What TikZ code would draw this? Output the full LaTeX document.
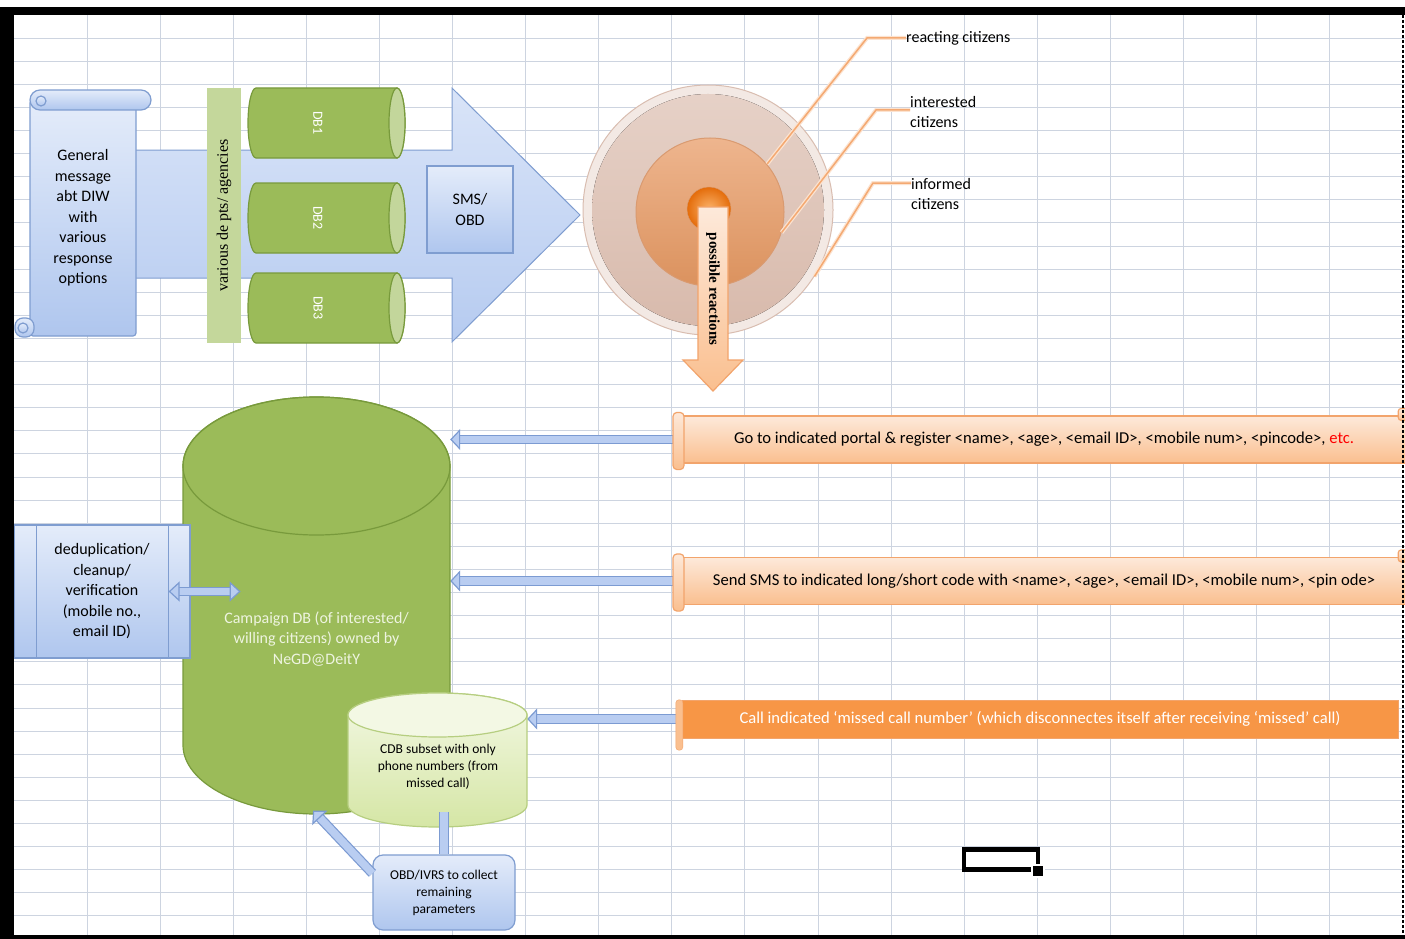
\documentclass[tikz,border=0pt]{standalone}
\usepackage{fontspec}
\setmainfont{Carlito}
\newfontfamily\timesfont{Liberation Serif}
\usepackage{tikz}
\usetikzlibrary{positioning}
\usetikzlibrary{arrows.meta}
\usetikzlibrary{backgrounds}

\definecolor{gridline}{HTML}{CDD4E0}
\definecolor{bluetop}{HTML}{E4ECFA}
\definecolor{bluebot}{HTML}{AFC6EE}
\definecolor{blueline}{HTML}{7F9DD0}
\definecolor{arrowtop}{HTML}{D9E4F8}
\definecolor{arrowbot}{HTML}{B6CBF0}
\definecolor{dbgreen}{HTML}{9BBB59}
\definecolor{dbline}{HTML}{789A3C}
\definecolor{dbcap}{HTML}{C3D69B}
\definecolor{agency}{HTML}{C4D79B}
\definecolor{campdbtext}{HTML}{EEF4E0}
\definecolor{palegreentop}{HTML}{F3F8E4}
\definecolor{palegreenbot}{HTML}{D5E6A5}
\definecolor{palegreenline}{HTML}{B6CE80}
\definecolor{peachtop}{HTML}{FDE9DA}
\definecolor{peachbot}{HTML}{FABF8F}
\definecolor{peachline}{HTML}{F2A46C}
\definecolor{xlorange}{HTML}{F79646}
\definecolor{calloutline}{HTML}{F4A972}
\definecolor{calloutglow}{HTML}{FCE3D0}
\definecolor{pipefill}{HTML}{B9CDF1}
\definecolor{pipeline}{HTML}{7C9BD2}
\definecolor{ringlight}{HTML}{F3E9E4}
\definecolor{ringline}{HTML}{D9BDB0}
\definecolor{ringtop}{HTML}{E6D1C7}
\definecolor{ringbot}{HTML}{D8BAAC}
\definecolor{midtop}{HTML}{EEB58E}
\definecolor{midbot}{HTML}{DB925E}
\definecolor{midline}{HTML}{D99A70}
\definecolor{coretop}{HTML}{FBB36A}
\definecolor{corebot}{HTML}{E46C0A}

\begin{document}
\begin{tikzpicture}
 [x=1pt, y=-1pt,
  xlgrid/.style={draw=gridline, line width=1pt},
  bluebox/.style={draw=blueline, line width=1.2pt, top color=bluetop, bottom color=bluebot},
  greendb/.style={draw=dbline, line width=1.2pt, fill=dbgreen},
  paledb/.style={draw=palegreenline, line width=1.2pt, top color=palegreentop, bottom color=palegreenbot},
  peachband/.style={draw=peachline, line width=1.2pt, top color=peachtop, bottom color=peachbot},
  txt/.style={font=\fontsize{16}{20.5}\selectfont, align=center, inner sep=0pt},
  bandtxt/.style={font=\fontsize{16.6}{20}\selectfont, align=center, inner sep=0pt},
  smalltxt/.style={font=\fontsize{13.5}{17}\selectfont, align=center, inner sep=0pt},
  dblabel/.style={font=\fontsize{14}{14}\selectfont, text=white, rotate=-90, inner sep=0pt},
  pipe/.style={draw=pipeline, double=pipefill, double distance=7.5pt, line width=1.2pt},
  pipetip/.style={-{Triangle[length=10pt,width=21pt,fill=pipefill,color=pipeline,line width=1.2pt]}},
  callout/.style={draw=calloutline, line width=1.5pt, preaction={draw=calloutglow, line width=4pt}}]
 \useasboundingbox (0,0) rectangle (1405,939);
 \begin{scope}[on background layer]
  \fill[white] (0,0) rectangle (1405,939);
  \foreach \i in {0,...,17}
    \draw[xlgrid] ({87+73.1*\i},15) -- ({87+73.1*\i},939);
  \foreach \j in {1,...,40}
    \draw[xlgrid] (14,{15+23.1*\j}) -- (1405,{15+23.1*\j});
 \end{scope}

 \draw[bluebox, line width=1pt, top color=arrowtop, bottom color=arrowbot]
   (133,150) -- (452,150) -- (452,88) -- (580,215) -- (452,342) -- (452,278) -- (133,278) -- cycle;

 \draw[bluebox, rounded corners=3] (30,100) rectangle (136,336);
 \draw[bluebox, rounded corners=10] (30,90) rectangle (151,110);
 \draw[bluebox] (41,101) circle (5);
 \draw[bluebox, rounded corners=8] (15,318) rectangle (34,337);
 \draw[bluebox] (23,328) circle (5);
 \node[txt] (genmsg) at (83,218) {General\\message\\abt DIW\\with\\various\\response\\options};

 \node[fill=agency, rotate=90, minimum width=255, minimum height=34, inner sep=0,
       font=\timesfont\fontsize{16}{16}\selectfont] (agencies) at (224,215.5) {various de pts/ agencies};

 \foreach \y/\lbl in {123/DB1, 218/DB2, 308/DB3} {
   \draw[greendb] (256,{\y-35}) -- (397,{\y-35}) arc (-90:90:8 and 35) -- (256,{\y+35}) arc (90:270:8 and 35) -- cycle;
   \draw[greendb, fill=dbcap] (397,\y) ellipse (8 and 35);
   \node[dblabel] (\lbl) at (318,\y) {\lbl};
 }

 \node[bluebox, minimum width=86, minimum height=87, txt] (smsobd) at (470,209.5) {SMS/\\OBD};

 \node[circle, inner sep=0, minimum size=250, draw=ringline, line width=1pt, fill=ringlight] (informedc) at (708,210) {};
 \fill[top color=ringtop, bottom color=ringbot] (informedc.center) circle (116);
 \node[circle, inner sep=0, minimum size=148, draw=midline, line width=1pt, top color=midtop, bottom color=midbot] (interestedc) at (710,212) {};
 \node[circle, inner sep=0, minimum size=44, draw=midline, inner color=coretop, outer color=corebot] (reactingc) at (709,209) {};

 \draw[peachband] (698,207) -- (728,207) -- (728,360) -- (743,360) -- (713,391) -- (683,360) -- (698,360) -- cycle;
 \node[font=\timesfont\bfseries\fontsize{15}{15}\selectfont, rotate=-90, inner sep=0] (reactions) at (713,289) {possible reactions};

 \node[txt, anchor=west] (reacting) at (906,38) {reacting citizens};
 \node[txt, anchor=west, align=left] (interested) at (910,112) {interested\\citizens};
 \node[txt, anchor=west, align=left] (informed) at (911,194) {informed\\citizens};
 \draw[callout] (interestedc.40) -- (867,38) -- (reacting.west);
 \draw[callout] (interestedc.-16) -- (876,110) -- ([yshift=2]interested.west);
 \draw[callout] (informedc.-32) -- (873,183) -- ([yshift=11]informed.west);

 \node[minimum width=267, minimum height=417, inner sep=0] (campdb) at (316.5,605.5) {};
 \draw[greendb] (183,466) -- (183,745) arc (180:0:133.5 and 69) -- (450,466) arc (0:-180:133.5 and 69) -- cycle;
 \draw[dbline, line width=1.2pt] (316.5,466) ellipse (133.5 and 69);
 \node[txt, text=campdbtext] (campdbtxt) at (316.5,639) {Campaign DB (of interested/\\willing citizens) owned by\\NeGD@DeitY};

 \node[bluebox, minimum width=176, minimum height=133, txt] (dedup) at (102,591.5)
   {deduplication/\\cleanup/\\verification\\(mobile no.,\\email ID)};
 \draw[blueline, line width=1.2pt] ([xshift=23]dedup.north west) -- ([xshift=23]dedup.south west)
   ([xshift=-22]dedup.north east) -- ([xshift=-22]dedup.south east);
 \draw[pipe, {Triangle[length=11pt,width=20pt,fill=pipefill,color=pipeline,line width=1.2pt]}-{Triangle[length=11pt,width=20pt,fill=pipefill,color=pipeline,line width=1.2pt]}]
   ([xshift=-22]dedup.east) -- ([xshift=50]dedup.east);

 \node[minimum width=179, minimum height=134, inner sep=0] (cdb) at (437.5,760) {};
 \draw[paledb] (348,715) -- (348,805) arc (180:0:89.5 and 22) -- (527,715) arc (0:-180:89.5 and 22) -- cycle;
 \draw[draw=palegreenline, line width=1.2pt, fill=palegreentop] (437.5,715) ellipse (89.5 and 22);
 \node[smalltxt] (cdbtxt) at (438,767) {CDB subset with only\\phone numbers (from\\missed call)};

 \node[bluebox, rounded corners=10, minimum width=142, minimum height=75, smalltxt] (obdivrs) at (444,892.5)
   {OBD/IVRS to collect\\remaining\\parameters};
 \draw[pipe, shorten <=-15pt] (obdivrs.north |- cdb.south) -- (obdivrs.north);
 \draw[pipe, pipetip, shorten >=-5pt] (obdivrs.165) -- (campdb.south);

 \node[peachband, minimum width=723, minimum height=47, anchor=west, bandtxt] (portal) at (682,439.5)
   {Go to indicated portal \& register <name>, <age>, <email ID>, <mobile num>, <pincode>, \textcolor{red}{etc.}};
 \draw[peachband, rounded corners=4] ([xshift=-9,yshift=3]portal.north west) rectangle ([xshift=2,yshift=-6]portal.south west);
 \draw[peachband, rounded corners=3] ([xshift=-8,yshift=7]portal.north east) rectangle ([xshift=2,yshift=-5]portal.north east);

 \node[peachband, minimum width=723, minimum height=47, anchor=west, bandtxt] (smscode) at (682,581)
   {Send SMS to indicated long/short code with <name>, <age>, <email ID>, <mobile num>, <pin ode>};
 \draw[peachband, rounded corners=4] ([xshift=-9,yshift=3]smscode.north west) rectangle ([xshift=2,yshift=-6]smscode.south west);
 \draw[peachband, rounded corners=3] ([xshift=-8,yshift=7]smscode.north east) rectangle ([xshift=2,yshift=-5]smscode.north east);

 \node[fill=xlorange, draw=peachline, minimum width=716, minimum height=38, bandtxt, text=white] (missed) at (1040,719)
   {Call indicated `missed call number' (which disconnectes itself after receiving `missed' call)};
 \draw[draw=peachline, fill=peachbot, rounded corners=3] ([xshift=-6]missed.north west) rectangle ([xshift=1,yshift=-12]missed.south west);

 \begin{scope}[on background layer]
  \draw[pipe, pipetip] ([xshift=-9]portal.west) -- (portal.west -| campdb.east);
  \draw[pipe, pipetip] ([xshift=-9]smscode.west) -- (smscode.west -| campdb.east);
  \draw[pipe, pipetip] ([xshift=-6]missed.west) -- (missed.west -| cdb.east);
 \end{scope}

 \draw[line width=4.5pt] (964,849.5) rectangle (1038,869.5);
 \fill[white] (1031,864) rectangle (1045,878);
 \fill (1033,866) rectangle (1043,876);

 \fill (0,7) rectangle (1405,15);
 \fill (0,7) rectangle (14,939);
 \fill (0,935) rectangle (1405,939);
 \draw[dash pattern=on 3pt off 2pt, line width=1.5pt] (1403,15) -- (1403,935);
\end{tikzpicture}
\end{document}
